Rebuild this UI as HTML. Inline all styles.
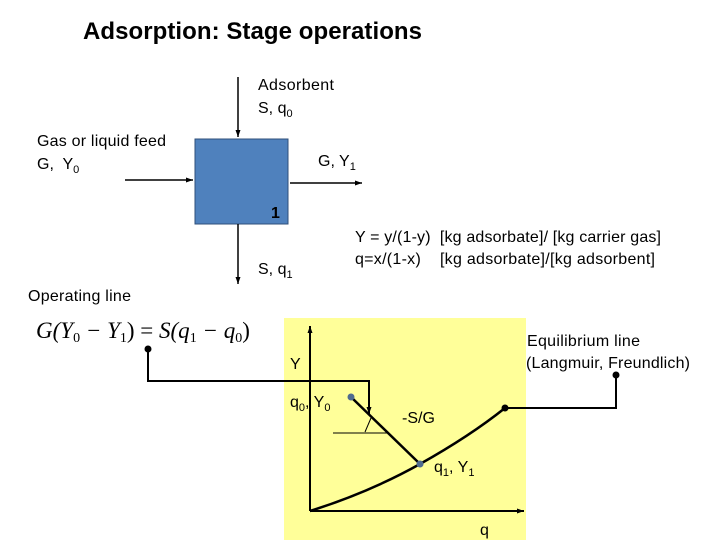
<!DOCTYPE html>
<html><head><meta charset="utf-8"><style>
body{margin:0;background:#fff;width:720px;height:540px;overflow:hidden}
text{font-family:"Liberation Sans","DejaVu Sans",sans-serif;fill:#000;white-space:pre}
</style></head><body>
<svg width="720" height="540" viewBox="0 0 720 540" xmlns="http://www.w3.org/2000/svg" xml:space="preserve">
<defs><marker id="a" markerWidth="8" markerHeight="8" refX="7" refY="4" orient="auto" markerUnits="userSpaceOnUse"><path d="M0,1.5 L7,4 L0,6.5z" fill="#000"/></marker></defs>
<text x="83" y="39" font-size="24" font-weight="bold" textLength="339">Adsorption: Stage operations</text>
<text x="258" y="90" font-size="16" textLength="76">Adsorbent</text>
<text x="258" y="113" font-size="16">S, q<tspan font-size="11" dy="4">0</tspan></text>
<text x="37" y="146" font-size="16" textLength="129">Gas or liquid feed</text>
<text x="37" y="169" font-size="16">G,  Y<tspan font-size="11" dy="4">0</tspan></text>
<text x="318" y="166" font-size="16">G, Y<tspan font-size="11" dy="4">1</tspan></text>
<rect x="195" y="139" width="93" height="85" fill="#4f81bd" stroke="#2f4f7a" stroke-width="1"/>
<text x="271" y="218" font-size="16" font-weight="bold">1</text>
<line x1="238" y1="77" x2="238" y2="137" stroke="#000" stroke-width="1.5" marker-end="url(#a)"/>
<line x1="125" y1="180" x2="193" y2="180" stroke="#000" stroke-width="1.5" marker-end="url(#a)"/>
<line x1="290" y1="183" x2="362" y2="183" stroke="#000" stroke-width="1.5" marker-end="url(#a)"/>
<line x1="238" y1="224" x2="238" y2="284" stroke="#000" stroke-width="1.5" marker-end="url(#a)"/>
<text x="258" y="274" font-size="16">S, q<tspan font-size="11" dy="4">1</tspan></text>
<text x="355" y="242" font-size="16" textLength="306">Y = y/(1-y)  [kg adsorbate]/ [kg carrier gas]</text>
<text x="355" y="264" font-size="16" textLength="300">q=x/(1-x)    [kg adsorbate]/[kg adsorbent]</text>
<text x="28" y="301" font-size="16" textLength="103">Operating line</text>
<text x="36" y="338" font-size="23" style="font-family:'Liberation Serif',serif" font-style="italic">G(Y<tspan font-size="14" dy="4" font-style="normal">0</tspan><tspan dy="-4"> − Y</tspan><tspan font-size="14" dy="4" font-style="normal">1</tspan><tspan dy="-4" font-style="normal">) = </tspan>S(q<tspan font-size="14" dy="4" font-style="normal">1</tspan><tspan dy="-4"> − q</tspan><tspan font-size="14" dy="4" font-style="normal">0</tspan><tspan dy="-4" font-style="normal">)</tspan></text>
<rect x="284" y="318" width="242" height="222" fill="#ffff99"/>
<line x1="310" y1="511" x2="310" y2="326" stroke="#000" stroke-width="2" marker-end="url(#a)"/>
<line x1="310" y1="511" x2="524" y2="511" stroke="#000" stroke-width="2" marker-end="url(#a)"/>
<text x="290" y="369" font-size="16">Y</text>
<text x="480" y="535" font-size="16">q</text>
<text x="290" y="407" font-size="16">q<tspan font-size="11" dy="4">0</tspan><tspan dy="-4">, Y</tspan><tspan font-size="11" dy="4">0</tspan></text>
<path d="M310,511 Q370,492 420,464 Q470,436 505,408" fill="none" stroke="#000" stroke-width="2.5"/>
<line x1="351" y1="397" x2="420" y2="464" stroke="#000" stroke-width="2.5"/>
<line x1="333" y1="433" x2="387" y2="433" stroke="#000" stroke-width="1"/>
<line x1="371" y1="418" x2="365" y2="432" stroke="#000" stroke-width="1"/>
<text x="402" y="423" font-size="16">-S/G</text>
<text x="434" y="472" font-size="16">q<tspan font-size="11" dy="4">1</tspan><tspan dy="-4">, Y</tspan><tspan font-size="11" dy="4">1</tspan></text>
<circle cx="351" cy="397" r="3.5" fill="#4f6b8f"/>
<circle cx="420" cy="464" r="3.5" fill="#4f6b8f"/>
<polyline points="148,349 148,381 369,381 369,414" fill="none" stroke="#000" stroke-width="2" marker-end="url(#a)"/>
<circle cx="148" cy="349" r="3.5" fill="#000"/>
<polyline points="505,408 616,408 616,375" fill="none" stroke="#000" stroke-width="2"/>
<circle cx="505" cy="408" r="3.5" fill="#000"/>
<circle cx="616" cy="375" r="3.5" fill="#000"/>
<text x="527" y="346" font-size="16" textLength="113">Equilibrium line</text>
<text x="526" y="368" font-size="16" textLength="164">(Langmuir, Freundlich)</text>
</svg>
</body></html>
